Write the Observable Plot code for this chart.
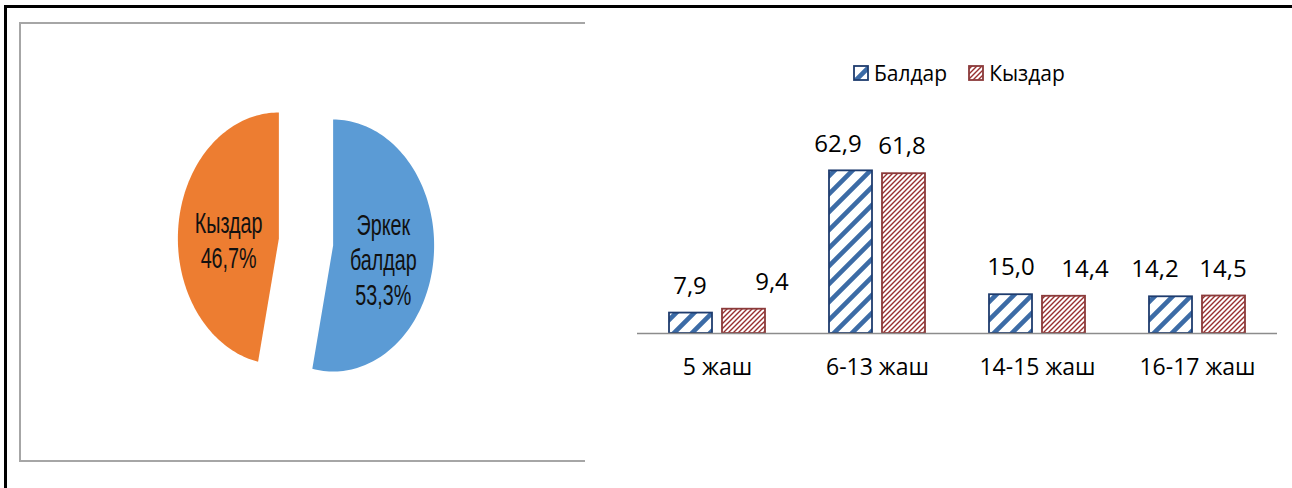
<!DOCTYPE html>
<html>
<head>
<meta charset="utf-8">
<script src="https://cdn.jsdelivr.net/npm/d3@7"></script>
<script src="https://cdn.jsdelivr.net/npm/@observablehq/plot@0.6"></script>
<style>
  body { margin: 0; background: #fff; }
  #page { position: relative; width: 1292px; height: 488px; overflow: hidden; background: #fff; }
  #frame { position: absolute; left: 4px; top: 5px; width: 1400px; height: 600px; border-left: 3px solid #000; border-top: 3px solid #000; }
  #piebox { position: absolute; left: 19px; top: 22px; width: 564px; height: 436px; border-top: 2px solid #a6a6a6; border-left: 2px solid #a6a6a6; border-bottom: 2px solid #a6a6a6; }
  #pie { position: absolute; left: 20px; top: 23px; }
  #bars { position: absolute; left: 600px; top: 100px; }
  #legend { position: absolute; left: 853px; top: 59px; display: flex; align-items: center; font-family: "Open Sans", sans-serif; font-size: 21px; color: #000; }
  #legend .item { display: flex; align-items: center; }
  #legend .item + .item { margin-left: 21px; }
  #legend svg { margin-right: 5px; }
</style>
</head>
<body>
<svg width="0" height="0" style="position:absolute">
  <defs>
    <pattern id="patBlue" patternUnits="userSpaceOnUse" width="18" height="18">
      <rect width="18" height="18" fill="#fff"/>
      <path d="M-4.5,4.5 L4.5,-4.5 M0,18 L18,0 M13.5,22.5 L22.5,13.5" stroke="#3C6BA6" stroke-width="4.6"/>
    </pattern>
    <pattern id="patRed" patternUnits="userSpaceOnUse" width="5" height="5">
      <rect width="5" height="5" fill="#fff"/>
      <path d="M-1,1 L1,-1 M0,5 L5,0 M4,6 L6,4" stroke="#983030" stroke-width="1.4"/>
    </pattern>
  </defs>
</svg>
<div id="page">
  <div id="frame"></div>
  <div id="piebox"></div>
  <div id="pie"></div>
  <div id="legend"></div>
  <div id="bars"></div>
</div>
<script>
// ---- data ----
const pieLabels = ["Эркек\nбалдар", "Кыздар"];
const pieValues = [53.3, 46.7];
const pieColors = ["#5B9BD5", "#ED7D31"];

const ageGroups = ["5 жаш", "6-13 жаш", "14-15 жаш", "16-17 жаш"];
const seriesNames = ["Балдар", "Кыздар"];
const boysValues = [7.9, 62.9, 15.0, 14.2];
const girlsValues = [9.4, 61.8, 14.4, 14.5];
const seriesFills = ["url(#patBlue)", "url(#patRed)"];
const seriesStrokes = ["#1F3C6E", "#8B3A3A"];
// horizontal nudges of the value labels, as placed in the original (px)
const labelNudge = {"Балдар": [-1, -13, 0, -16], "Кыздар": [28, -2, 21, -1]};

const fmt = v => v.toFixed(1).replace(".", ",");

// ---- pie geometry from data ----
const total = d3.sum(pieValues);
const explode = 0.27;
const slicePts = [];
const sliceLabels = [];
let cum = 0;
pieValues.forEach((v, i) => {
  const a0 = cum / total * 2 * Math.PI;
  const a1 = (cum + v) / total * 2 * Math.PI;
  cum += v;
  const mid = (a0 + a1) / 2;
  const ox = explode * Math.sin(mid), oy = explode * Math.cos(mid);
  slicePts.push({slice: i, x: ox, y: oy});
  const N = 120;
  for (let k = 0; k <= N; k++) {
    const a = a0 + (a1 - a0) * k / N;
    slicePts.push({slice: i, x: ox + Math.sin(a), y: oy + Math.cos(a)});
  }
  slicePts.push({slice: i, x: ox, y: oy});
  sliceLabels.push({
    x: ox + 0.5 * Math.sin(mid),
    y: oy + 0.5 * Math.cos(mid),
    text: pieLabels[i] + "\n" + fmt(v) + "%"
  });
});

const pie = Plot.plot({
  width: 563, height: 436,
  margin: 0,
  x: {domain: [-2.8267, 2.7475], axis: null},
  y: {domain: [-1.7262, 1.7341], axis: null},
  style: {background: "transparent", overflow: "visible"},
  marks: [
    ...pieValues.map((v, i) => Plot.line(slicePts.filter(p => p.slice === i), {
      x: "x", y: "y", fill: pieColors[i], stroke: "none"
    })),
    Plot.text(sliceLabels, {
      x: "x", y: "y", text: "text", dy: 7,
      fontSize: 26, lineHeight: 1.22, fill: "#111",
      fontFamily: "'Liberation Sans', Arial, sans-serif"
    })
  ]
});
// narrow, tall lettering as in the stretched original
pie.querySelectorAll('g[aria-label="text"] text').forEach(t => {
  let tr = t.getAttribute("transform") || "";
  const x = t.getAttribute("x"), y = t.getAttribute("y");
  if (x !== null || y !== null) {
    tr = `translate(${x || 0},${y || 0}) ` + tr;
    t.removeAttribute("x"); t.removeAttribute("y");
  }
  t.setAttribute("transform", tr + " scale(0.76,1.1)");
});
document.getElementById("pie").appendChild(pie);

// ---- bars ----
const barData = ageGroups.flatMap((g, i) => [
  {age: g, sex: seriesNames[0], value: boysValues[i], idx: i},
  {age: g, sex: seriesNames[1], value: girlsValues[i], idx: i}
]);

const bars = Plot.plot({
  width: 692, height: 300,
  marginLeft: 36, marginRight: 14, marginTop: 52, marginBottom: 67,
  style: {fontFamily: "'Open Sans', sans-serif", fontSize: "23px", color: "#000", background: "transparent", overflow: "visible"},
  fx: {domain: ageGroups, padding: 0, label: null, axis: "bottom", tickSize: 0, tickPadding: 25},
  x: {domain: seriesNames, paddingInner: 0.185, paddingOuter: 0.579, axis: null},
  y: {domain: [0, 70], axis: null},
  marks: [
    ...seriesNames.map((s, i) => Plot.barY(barData.filter(d => d.sex === s), {
      fx: "age", x: "sex", y: "value",
      fill: seriesFills[i], stroke: seriesStrokes[i], strokeWidth: 1.8
    })),
    Plot.ruleY([0], {stroke: "#8c8c8c", strokeWidth: 1.5}),
    ...barData.map(d => Plot.text([d], {
      fx: "age", x: "sex", y: "value", text: r => fmt(r.value),
      dy: -27, dx: labelNudge[d.sex][d.idx], fontSize: 24, fill: "#000"
    }))
  ]
});
document.getElementById("bars").appendChild(bars);

// ---- legend ----
const legend = document.getElementById("legend");
seriesNames.forEach((s, i) => {
  const item = document.createElement("div");
  item.className = "item";
  item.innerHTML = `<svg width="16" height="16"><rect x="1" y="1" width="14" height="14" fill="${seriesFills[i]}" stroke="${seriesStrokes[i]}" stroke-width="1.8"/></svg><span>${s}</span>`;
  legend.appendChild(item);
});
</script>
</body>
</html>
